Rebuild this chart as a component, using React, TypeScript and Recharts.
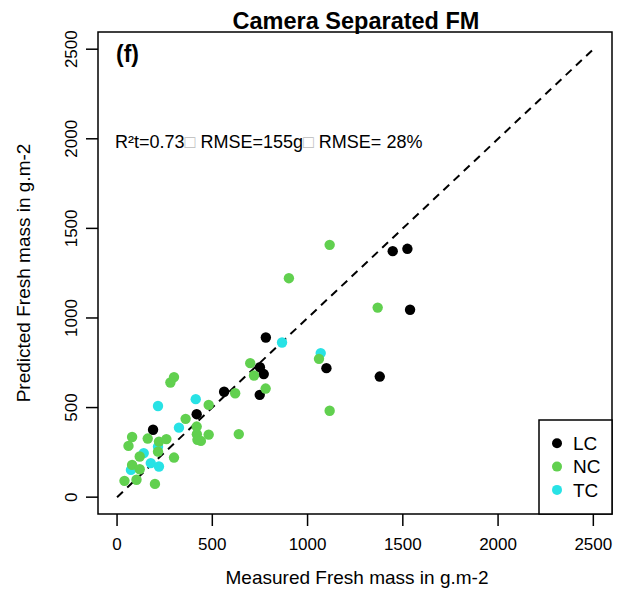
import React from 'react';
import { ScatterChart, Scatter, XAxis, YAxis, ReferenceLine, ReferenceArea } from 'recharts';

const FONT = '"Liberation Sans", Arial, Helvetica, sans-serif';

const TICKS = [0, 500, 1000, 1500, 2000, 2500];

// measured (x) / predicted (y) fresh mass, g.m-2
const lcMeasured = [189, 418, 562, 749, 750, 770, 781, 1099, 1379, 1447, 1524, 1538];
const lcPredicted = [376, 463, 588, 571, 725, 687, 891, 720, 673, 1373, 1386, 1046];

const ncMeasured = [39, 60, 79, 79, 102, 119, 119, 161, 199, 215, 220, 259, 280, 299, 299, 360, 418, 419, 422, 440, 481, 481, 620, 639, 699, 719, 780, 902, 1060, 1116, 1116, 1368];
const ncPredicted = [91, 286, 336, 180, 97, 227, 156, 327, 74, 254, 310, 324, 640, 670, 221, 437, 394, 351, 320, 314, 515, 349, 580, 352, 748, 679, 606, 1222, 772, 1408, 482, 1058];

const tcMeasured = [73, 140, 177, 215, 215, 220, 325, 413, 866, 1069];
const tcPredicted = [152, 246, 190, 509, 282, 171, 388, 547, 863, 804];

const SERIES = [
  { name: 'LC', color: '#000000', x: lcMeasured, y: lcPredicted },
  { name: 'NC', color: '#61D04F', x: ncMeasured, y: ncPredicted },
  { name: 'TC', color: '#28E2E5', x: tcMeasured, y: tcPredicted },
];
const DRAW_ORDER = ['LC', 'TC', 'NC'];

const toRows = (xs: number[], ys: number[]) => xs.map((x, i) => ({ x, y: ys[i] }));

const XTick = (p: any) => (
  <text x={p.x} y={p.y} dy="0.71em" textAnchor="middle" fontSize={17} fontFamily={FONT} fill="#000">
    {p.payload.value}
  </text>
);

const YTick = (p: any) => (
  <text x={p.x} y={p.y} transform={`rotate(-90 ${p.x} ${p.y})`} textAnchor="middle" fontSize={17} fontFamily={FONT} fill="#000">
    {p.payload.value}
  </text>
);

export default function App() {
  return (
    <div style={{ position: 'absolute', left: 0, top: 0, width: 624, height: 592, background: '#fff', fontFamily: FONT }}>
      <ScatterChart width={624} height={592} margin={{ top: 32, right: 12, bottom: 38, left: 58 }}>
        <XAxis type="number" dataKey="x" domain={[-100, 2598]} ticks={TICKS} interval={0} height={40}
          axisLine={false} tickLine={{ stroke: '#000', strokeWidth: 1.5 }} tickSize={12} tickMargin={12} tick={<XTick />} />
        <YAxis type="number" dataKey="y" domain={[-94, 2596]} ticks={TICKS} interval={0} width={40}
          axisLine={false} tickLine={{ stroke: '#000', strokeWidth: 1.5 }} tickSize={12} tickMargin={9} tick={<YTick />} />
        <ReferenceArea x1={-100} x2={2598} y1={-94} y2={2596} fill="none" fillOpacity={0} stroke="#000" strokeWidth={1.5} />
        <ReferenceLine segment={[{ x: 0, y: 0 }, { x: 2500, y: 2500 }]} stroke="#000" strokeWidth={2} strokeDasharray="8 6" />
        {DRAW_ORDER.map((n) => {
          const s = SERIES.find((d) => d.name === n)!;
          return (
            <Scatter key={s.name} name={s.name} data={toRows(s.x, s.y)} isAnimationActive={false}
              shape={(p: any) => <circle cx={p.cx} cy={p.cy} r={5.2} fill={s.color} />} />
          );
        })}
      </ScatterChart>

      <svg width={624} height={592} style={{ position: 'absolute', left: 0, top: 0, pointerEvents: 'none' }} fontFamily={FONT}>
        <text x={356} y={29} textAnchor="middle" fontSize={23.5} fontWeight="bold">Camera Separated FM</text>
        <text x={116} y={62} fontSize={23} fontWeight="bold">(f)</text>
        <text x={115} y={148} fontSize={18}>
          R²t=0.73<tspan fill="#bbb">□</tspan> RMSE=155g<tspan fill="#bbb">□</tspan> RMSE= 28%
        </text>
        <text x={357} y={584} textAnchor="middle" fontSize={19}>Measured Fresh mass in g.m-2</text>
        <text x={30} y={273} textAnchor="middle" fontSize={19} transform="rotate(-90 30 273)">Predicted Fresh mass in g.m-2</text>

        <rect x={539} y={420} width={73} height={94} fill="#fff" stroke="#000" strokeWidth={1.5} />
        {SERIES.map((s, i) => (
          <g key={s.name}>
            <circle cx={557} cy={443.3 + i * 23.3} r={5} fill={s.color} />
            <text x={573} y={443.3 + i * 23.3} dy="0.35em" fontSize={19}>{s.name}</text>
          </g>
        ))}
      </svg>
    </div>
  );
}
